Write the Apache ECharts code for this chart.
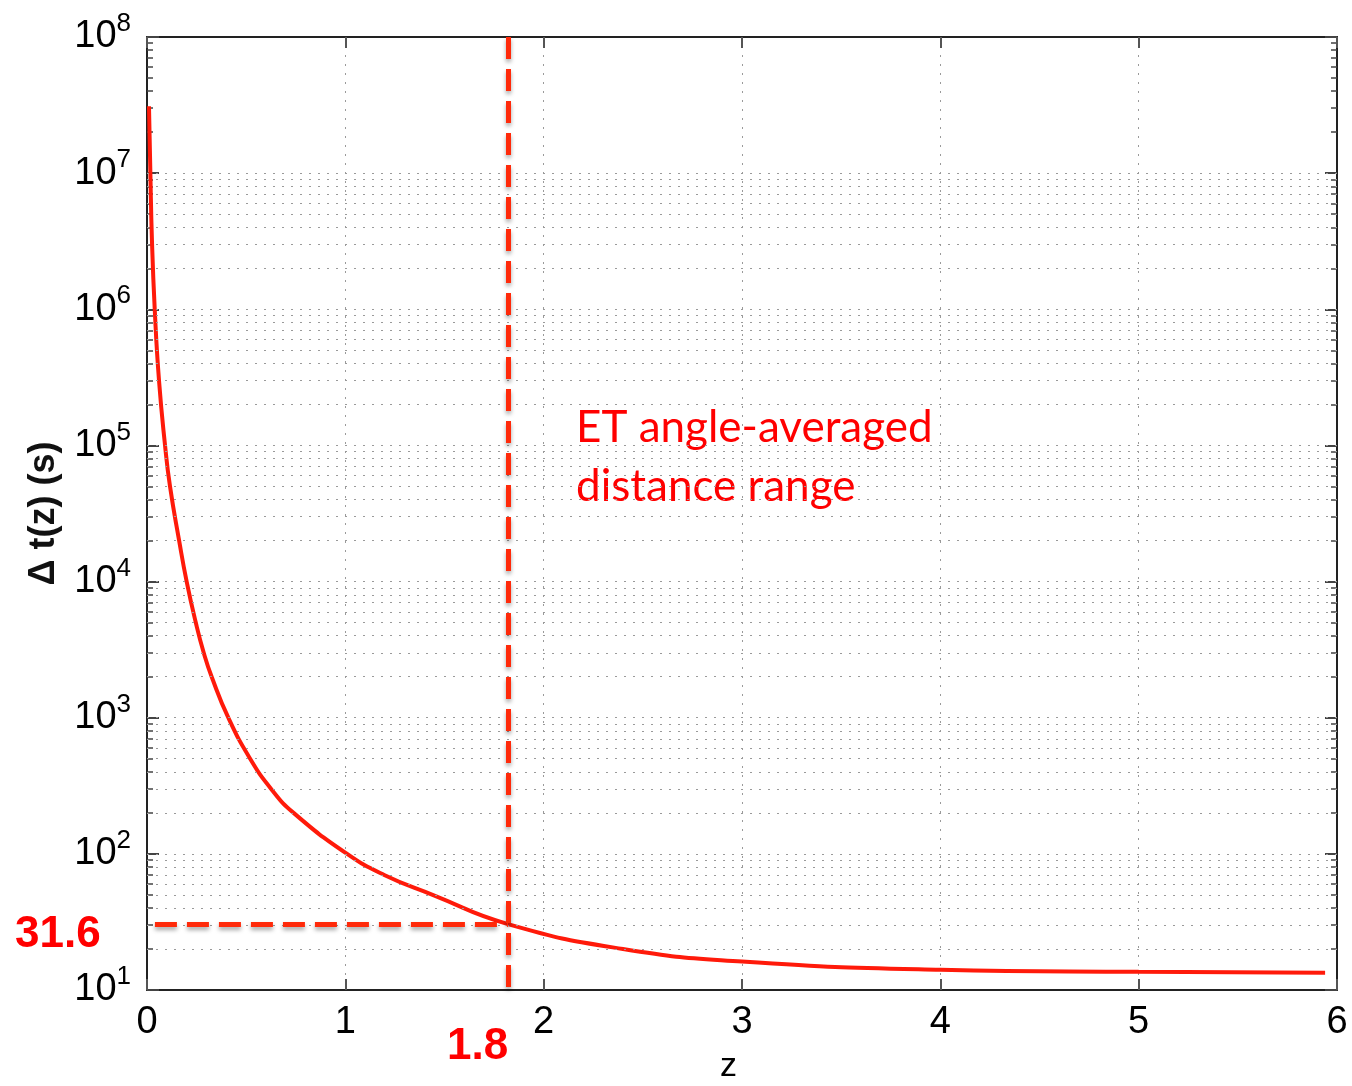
<!DOCTYPE html>
<html>
<head>
<meta charset="utf-8">
<script src="https://cdn.jsdelivr.net/npm/echarts@6/dist/echarts.min.js"></script>
<style>
html,body{margin:0;padding:0;background:#fff;}
#chart{width:1352px;height:1086px;}
</style>
</head>
<body>
<div id="chart"></div>
<script>
// ---- data ----
var zValues  = [0.010, 0.017, 0.025, 0.039, 0.0605, 0.091, 0.116, 0.162, 0.200, 0.246, 0.286, 0.326, 0.410, 0.520, 0.626, 0.739, 1.009, 1.196, 1.44, 1.82, 2.40, 3.0, 4.0, 5.0, 5.94];
var dtValues = [3.1e7, 1e7, 3.2e6, 1e6, 3e5, 1e5, 5e4, 2e4, 1e4, 5e3, 3e3, 2e3, 1e3, 500, 300, 200, 100, 70, 50, 30.5, 20, 16.2, 14.1, 13.6, 13.4];
var xTicks = [0, 1, 2, 3, 4, 5, 6];
var yDecades = [1, 2, 3, 4, 5, 6, 7, 8];           // 10^1 .. 10^8
var gridDecades = [1, 2, 3, 4, 5, 6];               // decades that carry dotted minor grid
var gridMultipliers = [1, 2, 3, 4, 5, 6, 7, 8, 9];
var zMark = 1.82;      // vertical dashed line (labelled 1.8)
var dtMark = 30.5;     // horizontal dashed line (labelled 31.6)
var zMarkStart = 0.04;
var zLabel = '1.8';
var dtLabel = '31.6';
var noteLines = ['ET angle-averaged', 'distance range'];

var curve = zValues.map(function (z, i) { return [z, dtValues[i]]; });

var hGrid = [];
gridDecades.forEach(function (d) {
  gridMultipliers.forEach(function (m) {
    if (d === 1 && m === 1) return;
    hGrid.push({ yAxis: m * Math.pow(10, d) });
  });
});
hGrid.push({ yAxis: Math.pow(10, 7) });

var FONT = 'Liberation Sans';
var chart = echarts.init(document.getElementById('chart'));
var axisColor = '#222';

function supLabel(v) {
  var e = Math.round(Math.log(v) / Math.LN10);
  return '{a|10}{b|' + e + '}';
}

var option = {
  backgroundColor: '#fff',
  animation: false,
  grid: { left: 147, right: 15, top: 37, bottom: 96, containLabel: false },
  xAxis: [{
    type: 'value', min: 0, max: 6, interval: 1, position: 'bottom',
    axisLine: { show: true, onZero: false, lineStyle: { color: axisColor, width: 2 } },
    axisTick: { show: true, inside: true, length: 11, lineStyle: { color: '#555', width: 2 } },
    axisLabel: { fontFamily: FONT, fontSize: 38, color: '#000', margin: 14 },
    splitLine: { show: true, lineStyle: { color: '#9a9a9a', width: 1, type: [2, 7] } }
  }, {
    type: 'value', min: 0, max: 6, interval: 1, position: 'top',
    axisLine: { show: true, onZero: false, lineStyle: { color: axisColor, width: 2 } },
    axisTick: { show: true, inside: true, length: 11, lineStyle: { color: '#555', width: 2 } },
    axisLabel: { show: false },
    splitLine: { show: false }
  }],
  yAxis: [{
    type: 'log', logBase: 10, min: 10, max: 1e8, splitNumber: 7, position: 'left',
    name: 'Δ t(z) (s)', nameLocation: 'middle', nameGap: 85, nameRotate: 90,
    nameTextStyle: { fontFamily: FONT, fontSize: 36, fontWeight: 'bold', color: '#111' },
    axisLine: { show: true, onZero: false, lineStyle: { color: axisColor, width: 2 } },
    axisTick: { show: true, inside: true, length: 12, lineStyle: { color: '#444', width: 2 } },
    minorTick: { show: true, splitNumber: 9, length: 6, lineStyle: { color: '#444', width: 1.5 } },
    axisLabel: {
      margin: 16, formatter: supLabel, color: '#000',
      rich: {
        a: { fontFamily: FONT, fontSize: 38, lineHeight: 52, color: '#000' },
        b: { fontFamily: FONT, fontSize: 26, lineHeight: 26, verticalAlign: 'top', color: '#000' }
      }
    },
    splitLine: { show: false }
  }, {
    type: 'log', logBase: 10, min: 10, max: 1e8, splitNumber: 7, position: 'right',
    axisLine: { show: true, onZero: false, lineStyle: { color: axisColor, width: 2 } },
    axisTick: { show: true, inside: true, length: 12, lineStyle: { color: '#444', width: 2 } },
    minorTick: { show: true, splitNumber: 9, length: 6, lineStyle: { color: '#444', width: 1.5 } },
    axisLabel: { show: false },
    splitLine: { show: false }
  }],
  series: [{
    type: 'line', name: 'grid', data: [], z: 1, silent: true,
    markLine: {
      silent: true, symbol: 'none', label: { show: false }, animation: false,
      lineStyle: { color: '#9a9a9a', width: 1, type: [2, 7] },
      data: hGrid
    }
  }, {
    type: 'line', name: 'dt', data: curve, z: 3, smooth: 0.5,
    showSymbol: false, symbol: 'none', silent: true,
    lineStyle: { color: '#ff1a0a', width: 4 }
  }, {
    type: 'line', name: 'marks', data: [], z: 4, silent: true,
    markLine: {
      silent: true, symbol: 'none', label: { show: false }, animation: false,
      lineStyle: {
        color: '#ff2a0a', width: 5, type: [22, 10],
        shadowColor: 'rgba(0,0,0,0.35)', shadowBlur: 4, shadowOffsetY: 3
      },
      data: [
        [{ coord: [zMark, 1e8] }, { coord: [zMark, 10] }],
        [{ coord: [zMarkStart, dtMark] }, { coord: [zMark, dtMark] }]
      ]
    }
  }],
  graphic: [
    { type: 'text', left: 15, top: 913, style: { text: dtLabel, fontFamily: FONT, fontSize: 44, fontWeight: 'bold', fill: '#ff0000' } },
    { type: 'text', left: 447, top: 1025, style: { text: zLabel, fontFamily: FONT, fontSize: 44, fontWeight: 'bold', fill: '#ff0000' } },
    { type: 'text', left: 720, top: 1050, style: { text: 'z', fontFamily: FONT, fontSize: 34, fill: '#000' } },
    { type: 'text', left: 576, top: 398, style: { text: noteLines.join('\n'), fontFamily: 'Lato', fontSize: 44, lineHeight: 59, fill: '#ff0000' } }
  ]
};
chart.setOption(option);
</script>
</body>
</html>
